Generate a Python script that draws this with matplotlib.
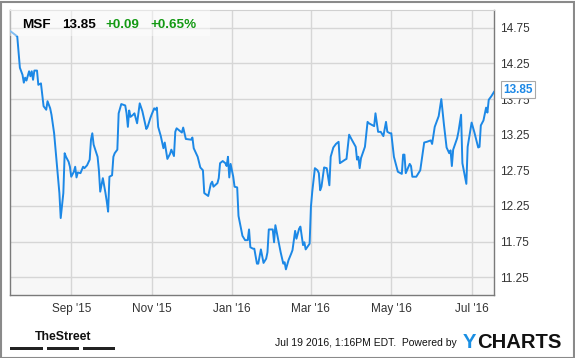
import numpy as np
import matplotlib
matplotlib.use("Agg")
import matplotlib.pyplot as plt
import matplotlib.dates as mdates
from matplotlib.patches import Rectangle

# MSF closing price (days counted from the first point)
start_date = np.datetime64("2015-07-17")
day_offsets = [0, 5, 7, 9, 10, 11, 12, 14, 15, 16, 17, 18, 20, 21, 23, 25, 27, 28, 30, 31,
               33, 35, 37, 38, 40, 41, 42, 44, 45, 46, 48, 49, 50, 51, 53, 55, 56, 58, 60, 61,
               62, 63, 66, 67, 68, 70, 72, 73, 74, 75, 77, 78, 79, 81, 82, 84, 87, 88, 89, 90,
               91, 93, 94, 96, 98, 100, 103, 104, 106, 107, 109, 110, 111, 112, 114, 116, 117, 119, 121, 122,
               124, 125, 126, 130, 131, 133, 137, 138, 139, 142, 144, 146, 147, 150, 152, 153, 154, 157, 158, 159,
               161, 163, 164, 165, 166, 167, 169, 170, 172, 173, 176, 178, 180, 181, 182, 184, 185, 187, 188, 190,
               192, 194, 195, 196, 199, 200, 201, 203, 205, 207, 208, 209, 211, 213, 214, 216, 217, 219, 220, 222,
               223, 224, 227, 228, 229, 231, 233, 234, 235, 236, 238, 240, 242, 243, 245, 247, 249, 250, 254, 255,
               257, 259, 262, 263, 264, 265, 266, 269, 271, 272, 274, 276, 277, 279, 281, 283, 285, 286, 288, 289,
               291, 293, 294, 297, 298, 299, 300, 303, 304, 305, 308, 311, 314, 316, 319, 320, 322, 325, 327, 329,
               331, 333, 334, 335, 336, 339, 340, 342, 343, 346, 347, 350, 352, 355, 356, 357, 359, 361, 362, 363,
               365, 367]
prices = [14.70, 14.63, 14.19, 14.09, 13.98, 14.05, 14.01, 14.14, 14.07, 14.14, 14.02, 14.15, 14.15, 13.95, 13.97, 13.65, 13.60, 13.72, 13.62, 13.53,
          13.27, 12.85, 12.43, 12.08, 12.43, 12.99, 12.94, 12.87, 12.80, 12.66, 12.73, 12.80, 12.65, 12.72, 12.71, 12.80, 12.78, 12.82, 12.90, 13.18,
          13.27, 13.11, 12.94, 12.75, 12.45, 12.64, 12.43, 12.31, 12.17, 12.66, 12.68, 12.94, 12.99, 13.04, 13.55, 13.68, 13.66, 13.55, 13.36, 13.59,
          13.50, 13.53, 13.55, 13.41, 13.69, 13.58, 13.33, 13.36, 13.48, 13.53, 13.62, 13.60, 13.63, 13.36, 13.23, 13.06, 13.14, 12.91, 12.98, 13.04,
          12.95, 13.29, 13.34, 13.28, 13.35, 13.19, 13.18, 13.21, 13.06, 12.94, 12.79, 12.75, 12.43, 12.39, 12.56, 12.59, 12.52, 12.57, 12.64, 12.85,
          12.88, 12.85, 12.81, 12.94, 12.65, 12.84, 12.66, 12.52, 12.51, 12.11, 11.83, 11.77, 11.77, 11.92, 11.67, 11.65, 11.65, 11.44, 11.44, 11.64,
          11.45, 11.51, 11.60, 11.92, 11.92, 11.74, 11.98, 11.79, 11.60, 11.44, 11.46, 11.36, 11.49, 11.58, 11.63, 11.90, 11.79, 11.93, 11.96, 11.70,
          11.74, 11.64, 11.72, 12.24, 12.45, 12.78, 12.75, 12.71, 12.47, 12.52, 12.79, 12.78, 12.54, 12.94, 13.07, 13.12, 13.15, 12.85, 12.90, 12.91,
          13.25, 13.18, 13.08, 12.90, 12.94, 12.78, 12.92, 13.08, 13.43, 13.41, 13.39, 13.37, 13.55, 13.29, 13.29, 13.23, 13.43, 13.29, 13.27, 13.27,
          12.94, 12.80, 12.73, 12.70, 12.97, 12.97, 12.71, 12.84, 12.81, 12.66, 12.66, 12.75, 13.14, 13.15, 13.17, 13.12, 13.36, 13.51, 13.75, 13.39,
          13.07, 12.99, 13.03, 12.81, 13.04, 13.20, 13.29, 13.53, 12.85, 12.56, 13.08, 13.42, 13.29, 13.07, 13.08, 13.38, 13.45, 13.63, 13.56, 13.74,
          13.79, 13.85]

y_ticks = [11.25, 11.75, 12.25, 12.75, 13.25, 13.75, 14.25, 14.75]
x_tick_dates = ["2015-09-01", "2015-11-01", "2016-01-01", "2016-03-01", "2016-05-01", "2016-07-01"]
x_tick_labels = ["Sep '15", "Nov '15", "Jan '16", "Mar '16", "May '16", "Jul '16"]

ticker, last_price, change, change_pct = "MSF", "13.85", "+0.09", "+0.65%"
timestamp = "Jul 19 2016, 1:16PM EDT.  Powered by"

line_color = "#1c88e6"
green = "#139913"
font = ["Liberation Sans", "DejaVu Sans"]

W, H = 575, 358
fig = plt.figure(figsize=(W / 100, H / 100), dpi=100)
fig.patch.set_facecolor("white")

def fx(px):
    return px / W

def fy(py):
    return 1 - py / H

# plot area in pixels: x 10..494, y 10..295
ax = fig.add_axes([fx(10), fy(295), fx(494) - fx(10), (295 - 10) / H])
ax.set_facecolor("#f7f7f7")

dates = start_date + np.array(day_offsets).astype("timedelta64[D]")
ax.plot(dates.astype("datetime64[ms]").astype(object), prices, color=line_color, lw=1.4, zorder=3)

ax.set_xlim(mdates.date2num(np.datetime64("2015-07-16T12")), mdates.date2num(np.datetime64("2016-07-18")))
ax.set_ylim(11.0, 15.0)
ax.set_yticks(y_ticks)
ax.set_yticklabels([f"{v:.2f}" for v in y_ticks])
ax.set_xticks([mdates.date2num(np.datetime64(d)) for d in x_tick_dates])
ax.set_xticklabels(x_tick_labels)
ax.yaxis.tick_right()
ax.tick_params(axis="both", length=0, labelsize=8.5, labelcolor="#333333")
ax.tick_params(axis="y", pad=4)
ax.tick_params(axis="x", pad=6)
for lab in ax.get_xticklabels() + ax.get_yticklabels():
    lab.set_family(font)

ax.grid(True, color="#d6d6d6", lw=1)
ax.set_axisbelow(True)
for side in ["left", "bottom", "right"]:
    ax.spines[side].set_color("#7a7a7a")
    ax.spines[side].set_linewidth(1)
ax.spines["top"].set_color("#d0d0d0")

# faded box behind the title
ax.add_patch(Rectangle((0, 1 - 26 / 285), 200 / 484, 26 / 285, transform=ax.transAxes,
                       facecolor="white", alpha=0.45, edgecolor="none", zorder=4))

# title pieces
title_kw = dict(fontsize=9.7, fontweight="bold", family=font, va="baseline", ha="left")
fig.text(fx(22), fy(28), ticker, color="black", **title_kw)
fig.text(fx(62), fy(28), last_price, color="black", **title_kw)
fig.text(fx(105), fy(28), change, color=green, **title_kw)
fig.text(fx(150), fy(28), change_pct, color=green, **title_kw)

# last value flag on the right
ax.annotate(last_price, xy=(dates[-1].astype("datetime64[ms]").astype(object), prices[-1]),
            xytext=(17, 1.5), textcoords="offset points", ha="center", va="center",
            fontsize=8.5, fontweight="bold", color=line_color, family=font,
            bbox=dict(boxstyle="square,pad=0.2", fc="white", ec="#a8a8a8", lw=0.8),
            annotation_clip=False, zorder=6)

# footer
fig.text(fx(63), fy(340), "TheStreet", fontsize=8.8, fontweight="bold",
         family=["Liberation Sans Narrow", "Liberation Sans", "DejaVu Sans"],
         ha="center", va="baseline", color="#111111")
for x0, x1 in [(10, 43), (47, 79), (83, 115)]:
    fig.add_artist(Rectangle((fx(x0), fy(349.5)), fx(x1) - fx(x0), 2.5 / H,
                             transform=fig.transFigure, facecolor="#222222", edgecolor="none"))
fig.text(fx(275), fy(346), timestamp, fontsize=7.5, family=font, color="#111111",
         ha="left", va="baseline")
fig.text(fx(463), fy(348), "Y", fontsize=14.6, fontweight="bold", family=font,
         color="#1a8fe3", ha="left", va="baseline")
fig.text(fx(477.5), fy(348), "CHARTS", fontsize=14.6, fontweight="bold", family=font,
         color="#111111", ha="left", va="baseline")

# outer frame
fig.add_artist(Rectangle((0.5 / W, 0.5 / H), 1 - 2 / W, 1 - 2 / H, transform=fig.transFigure,
                         facecolor="none", edgecolor="#8a8a8a", lw=1.5))

fig.savefig("out.png", dpi=100)
